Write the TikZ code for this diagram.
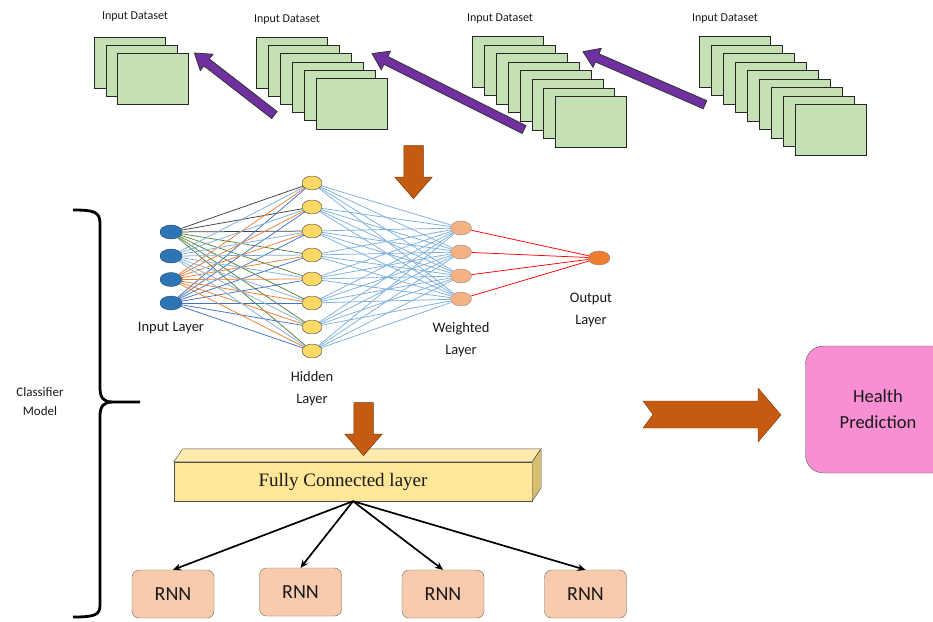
\documentclass[tikz,border=0pt]{standalone}
\usepackage{fontspec}
\setmainfont{Carlito}
\newfontfamily\timesfont{Liberation Serif}
\usetikzlibrary{calc,shapes.geometric,shapes.arrows,arrows.meta}

\definecolor{framegreen}{HTML}{C5E0B4}
\definecolor{arrowpurple}{HTML}{7030A0}
\definecolor{arrowbrown}{HTML}{C55A11}
\definecolor{inblue}{HTML}{2E75B6}
\definecolor{hidyellow}{HTML}{FFD966}
\definecolor{wpeach}{HTML}{F4B183}
\definecolor{outorange}{HTML}{ED7D31}
\definecolor{edgeblue}{HTML}{5B9BD5}
\definecolor{edgedark}{HTML}{4472C4}
\definecolor{edgegreen}{HTML}{548235}
\definecolor{fcyellow}{HTML}{FFE699}
\definecolor{fcside}{HTML}{D6BE6E}
\definecolor{rnnpeach}{HTML}{F8CBAD}
\definecolor{healthpink}{HTML}{F88FD3}

\tikzset{
  dataframe/.style={draw=black!85, fill=framegreen, line width=0.9pt, anchor=north west,
    minimum width=71pt, minimum height=50.5pt, inner sep=0pt},
  dslabel/.style={font=\fontsize{12}{14}\selectfont, text=black!90},
  nnlabel/.style={font=\fontsize{14.5}{22}\selectfont, text=black!90, align=center},
  purplearrow/.style={single arrow, draw=black!80, fill=arrowpurple, line width=0.8pt,
    inner sep=0pt, inner ysep=4pt, single arrow head extend=6pt, single arrow tip angle=68},
  brownarrow/.style={single arrow, draw=arrowbrown!60!black, fill=arrowbrown, line width=0.5pt,
    inner sep=0pt, inner ysep=9.5pt, single arrow head extend=9pt, single arrow tip angle=82},
  innode/.style={ellipse, draw=inblue!60!black, fill=inblue, minimum width=22pt, minimum height=14pt, inner sep=0pt},
  hidnode/.style={ellipse, draw=black!75, fill=hidyellow, minimum width=20pt, minimum height=14pt, inner sep=0pt},
  wnode/.style={ellipse, draw=black!45, fill=wpeach, minimum width=21pt, minimum height=14pt, inner sep=0pt},
  outnode/.style={ellipse, draw=black!45, fill=outorange, minimum width=22pt, minimum height=14pt, inner sep=0pt},
  nnedge/.style={line width=0.75pt},
  fcface/.style={draw=black!70, fill=fcyellow, minimum width=358pt, minimum height=39pt, inner sep=0pt},
  fctext/.style={font=\timesfont\fontsize{19}{22}\selectfont, text=black!90},
  rnnbox/.style={draw=black!60, fill=rnnpeach, rounded corners=7pt, minimum width=82pt, minimum height=48pt,
    font=\fontsize{20}{22}\selectfont, text=black!90},
  fcarrow/.style={line width=1.7pt, -{Stealth[length=8pt,width=7pt]}},
  healthbox/.style={draw=black!65, fill=healthpink, rounded corners=18pt, minimum width=145pt, minimum height=127pt,
    align=center, font=\fontsize{18.5}{26}\selectfont, text=black!90},
}

\newcommand{\fatarrow}[3]{%
  \path let \p1=($(#3)-(#2)$), \n1={atan2(\y1,\x1)}, \n2={veclen(\x1,\y1)} in
    node[#1, minimum height=\n2, rotate=\n1] at ($(#2)!0.5!(#3)$) {};}

\begin{document}
\begin{tikzpicture}[x=1pt, y=-1pt]
    \useasboundingbox (0,0) rectangle (933,621);

    % Input datasets
    \foreach \i in {0,...,2} \node[dataframe] (sa\i) at ({94+11.5*\i},{37+8*\i}) {};
    \foreach \i in {0,...,5} \node[dataframe] (sb\i) at ({256+12*\i},{37+8.2*\i}) {};
    \foreach \i in {0,...,7} \node[dataframe] (sc\i) at ({472+11.9*\i},{36+8.6*\i}) {};
    \foreach \i in {0,...,8} \node[dataframe] (sd\i) at ({699+12*\i},{36+8.5*\i}) {};
    \node[dslabel] (la) at (135,17) {Input Dataset};
    \node[dslabel] (lb) at (287,20) {Input Dataset};
    \node[dslabel] (lc) at (500,19) {Input Dataset};
    \node[dslabel] (ld) at (725,19) {Input Dataset};

    % Purple arrows between datasets
    \coordinate (pa1s) at (277,117); \coordinate (pa1t) at (197,55);
    \coordinate (pa2s) at (527,131); \coordinate (pa2t) at (375,55);
    \coordinate (pa3s) at (708,106); \coordinate (pa3t) at (586,53);
    \fatarrow{purplearrow}{pa1s}{pa1t}
    \fatarrow{purplearrow}{pa2s}{pa2t}
    \fatarrow{purplearrow}{pa3s}{pa3t}

    % Down arrow to network
    \coordinate (da1s) at (413.5,140); \coordinate (da1t) at (413.5,193);
    \fatarrow{brownarrow}{da1s}{da1t}

    % Network nodes
    \foreach \k/\y in {1/232,2/256,3/279.5,4/303} \node[innode] (i\k) at (171,\y) {};
    \foreach \k in {1,...,8} \node[hidnode] (h\k) at (312,{183+(\k-1)*24}) {};
    \foreach \k/\y in {1/228,2/252,3/276,4/299} \node[wnode] (w\k) at (461,\y) {};
    \node[outnode] (o) at (599,258) {};

    % Network edges
    \foreach \k in {1,2,3} \draw[nnedge, black!75] (i1) -- (h\k);
    \foreach \k in {4,...,8} \draw[nnedge, edgegreen] (i1) -- (h\k);
    \foreach \k in {1,...,8} {
        \draw[nnedge, edgeblue!80] (i2) -- (h\k);
        \draw[nnedge, outorange] (i3) -- (h\k);
        \draw[nnedge, edgedark] (i4) -- (h\k);
    }
    \foreach \k in {1,...,8} \foreach \j in {1,...,4} \draw[nnedge, edgeblue!80] (h\k) -- (w\j);
    \foreach \j in {1,...,4} \draw[nnedge, red] (w\j) -- (o);

    % Layer labels
    \node[nnlabel] (lin) at (171,328) {Input Layer};
    \node[nnlabel] (lhid) at (312,389) {Hidden\\Layer};
    \node[nnlabel] (lw) at (461,340) {Weighted\\Layer};
    \node[nnlabel] (lout) at (591,310) {Output\\Layer};

    % Classifier brace
    \draw[line width=2.8pt] (73,210) .. controls (95,210) and (100,212) .. (100,224) -- (100,388)
        .. controls (100,398) and (104,402) .. (112,402) -- (140,402);
    \draw[line width=2.8pt] (112,402) .. controls (104,402) and (100,406) .. (100,416) -- (100,605)
        .. controls (100,615) and (95,617) .. (73,617);
    \node[font=\fontsize{13}{19}\selectfont, text=black!90, align=center] (cm) at (40,402) {Classifier\\Model};

    % Fully connected layer
    \node[fcface] (fc) at (353,481.5) {};
    \draw[draw=black!70, fill=fcyellow!80!white] (fc.north west) -- ++(9,-13) -- ++(358,0) -- (fc.north east) -- cycle;
    \draw[draw=black!70, fill=fcside] (fc.north east) -- ++(9,-13) -- ++(0,39) -- (fc.south east) -- cycle;
    \node[fctext] (fct) at (343,482) {Fully Connected layer};
    \coordinate (da2s) at (363.5,397); \coordinate (da2t) at (363.5,450);
    \fatarrow{brownarrow}{da2s}{da2t}

    % RNN units
    \node[rnnbox] (r1) at (173,594) {RNN};
    \node[rnnbox] (r2) at (300.5,592) {RNN};
    \node[rnnbox] (r3) at (443,594) {RNN};
    \node[rnnbox] (r4) at (585.5,594) {RNN};
    \foreach \r in {r1,r2,r3,r4} \draw[fcarrow] (fc.south) -- (\r.north);

    % Prediction
    \fill[arrowbrown, draw=arrowbrown!60!black] (643,401) -- (758,401) -- (758,388) -- (781,415)
        -- (758,442) -- (758,428) -- (643,428) -- (653,414.5) -- cycle;
    \node[healthbox] (hp) at (878,409.5) {Health\\Prediction};
\end{tikzpicture}
\end{document}
